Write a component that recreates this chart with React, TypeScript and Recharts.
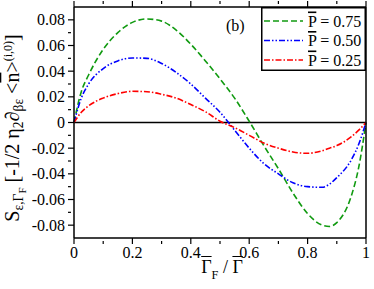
import { LineChart, Line, XAxis, YAxis, ReferenceLine } from "recharts";

// x = Gamma_F / Gamma
const xValues = [0, 0.025, 0.05, 0.1, 0.15, 0.2, 0.25, 0.3, 0.35, 0.4, 0.45, 0.5, 0.55, 0.6, 0.65, 0.7, 0.75, 0.8, 0.85, 0.875, 0.9, 0.95, 0.975, 1];
// P = 0.75
const p075 = [0, 0.024, 0.037, 0.057, 0.070, 0.078, 0.0807, 0.079, 0.072, 0.061, 0.048, 0.034, 0.019, 0.001, -0.018, -0.036, -0.055, -0.071, -0.080, -0.081, -0.078, -0.057, -0.035, 0];
// P = 0.50
const p050 = [0, 0.019, 0.030, 0.042, 0.048, 0.0503, 0.050, 0.046, 0.039, 0.030, 0.019, 0.008, -0.006, -0.020, -0.032, -0.040, -0.047, -0.050, -0.0505, -0.048, -0.043, -0.029, -0.017, 0];
// P = 0.25
const p025 = [0, 0.008, 0.013, 0.019, 0.0225, 0.0243, 0.024, 0.022, 0.019, 0.014, 0.0084, 0.001, -0.004, -0.010, -0.016, -0.020, -0.023, -0.024, -0.022, -0.020, -0.018, -0.011, -0.006, 0];

const xTicks = [0, 0.1, 0.2, 0.3, 0.4, 0.5, 0.6, 0.7, 0.8, 0.9, 1];
const yTicks = [-0.08, -0.07, -0.06, -0.05, -0.04, -0.03, -0.02, -0.01, 0, 0.01, 0.02, 0.03, 0.04, 0.05, 0.06, 0.07, 0.08];

const series = [
  { key: "p075", label: "0.75", color: "#109a10", dash: "6 3" },
  { key: "p050", label: "0.50", color: "#0000ff", dash: "6 2 1.5 2 1.5 2" },
  { key: "p025", label: "0.25", color: "#ff0000", dash: "6 2 1.5 2" },
];

const data = xValues.map((x, i) => ({ x, p075: p075[i], p050: p050[i], p025: p025[i] }));

const FONT = '"Liberation Serif", "Times New Roman", serif';
const MARGIN = 3;

const fmtX = (v: number) => (v === 0 ? "0" : v === 1 ? "1" : v.toFixed(1));
const fmtY = (v: number) => (Math.abs(v) < 1e-9 ? "0" : v.toFixed(2));

const BottomTick = ({ x, y, payload, index }: any) => {
  const major = index % 2 === 0;
  const ay = y - MARGIN;
  return (
    <g>
      <line x1={x} y1={ay} x2={x} y2={ay - (major ? 6 : 3)} stroke="#000" strokeWidth={1.2} />
      {major && (
        <text x={x} y={y} dy="0.71em" textAnchor="middle" fontSize={16} fontFamily={FONT} fill="#000">
          {fmtX(payload.value)}
        </text>
      )}
    </g>
  );
};

const TopTick = ({ x, y, index }: any) => {
  const major = index % 2 === 0;
  const ay = y + MARGIN;
  return <line x1={x} y1={ay} x2={x} y2={ay + (major ? 6 : 3)} stroke="#000" strokeWidth={1.2} />;
};

const LeftTick = ({ x, y, payload, index }: any) => {
  const major = index % 2 === 0;
  const ax = x + MARGIN;
  return (
    <g>
      <line x1={ax} y1={y} x2={ax + (major ? 6 : 3)} y2={y} stroke="#000" strokeWidth={1.2} />
      {major && (
        <text x={x} y={y} dy="0.35em" textAnchor="end" fontSize={16} fontFamily={FONT} fill="#000">
          {fmtY(payload.value)}
        </text>
      )}
    </g>
  );
};

const RightTick = ({ x, y, index }: any) => {
  const major = index % 2 === 0;
  const ax = x - MARGIN;
  return <line x1={ax} y1={y} x2={ax - (major ? 6 : 3)} y2={y} stroke="#000" strokeWidth={1.2} />;
};

const sub = { fontSize: "0.68em", verticalAlign: "-0.3em" } as const;
const sup = { fontSize: "0.6em", verticalAlign: "0.55em" } as const;
const over = { textDecoration: "overline" } as const;

export default function App() {
  return (
    <div style={{ position: "absolute", left: 0, top: 0, width: 374, height: 289, fontFamily: FONT, background: "#fff" }}>
      <LineChart width={374} height={289} data={data} margin={{ top: 0, right: 0, bottom: 0, left: 0 }}>
        <XAxis
          dataKey="x"
          type="number"
          domain={[0, 1]}
          ticks={xTicks}
          interval={0}
          height={51}
          tickLine={false}
          tickMargin={MARGIN}
          tick={<BottomTick />}
          axisLine={{ stroke: "#000", strokeWidth: 1.5 }}
        />
        <XAxis
          xAxisId="top"
          orientation="top"
          dataKey="x"
          type="number"
          domain={[0, 1]}
          ticks={xTicks}
          interval={0}
          height={7}
          tickLine={false}
          tickMargin={MARGIN}
          tick={<TopTick />}
          axisLine={{ stroke: "#000", strokeWidth: 1.5 }}
        />
        <YAxis
          type="number"
          domain={[-0.09, 0.09]}
          ticks={yTicks}
          interval={0}
          width={74}
          tickLine={false}
          tickMargin={MARGIN}
          tick={<LeftTick />}
          axisLine={{ stroke: "#000", strokeWidth: 1.5 }}
        />
        <YAxis
          yAxisId="right"
          orientation="right"
          type="number"
          domain={[-0.09, 0.09]}
          ticks={yTicks}
          interval={0}
          width={8}
          tickLine={false}
          tickMargin={MARGIN}
          tick={<RightTick />}
          axisLine={{ stroke: "#000", strokeWidth: 1.5 }}
        />
        <ReferenceLine y={0} stroke="#000" strokeWidth={1.5} />
        {series.map((s) => (
          <Line
            key={s.key}
            type="monotone"
            dataKey={s.key}
            stroke={s.color}
            strokeWidth={1.6}
            strokeDasharray={s.dash}
            dot={false}
            isAnimationActive={false}
          />
        ))}
      </LineChart>

      {/* legend */}
      <svg style={{ position: "absolute", left: 261, top: 7 }} width={105} height={64}>
        <rect x={0.75} y={0.75} width={103.5} height={62.5} fill="#fff" stroke="#000" strokeWidth={1.5} />
        {series.map((s, i) => (
          <g key={s.key}>
            <line x1={3} x2={42} y1={14 + i * 19.5} y2={14 + i * 19.5} stroke={s.color} strokeWidth={1.6} strokeDasharray={s.dash} />
            <text x={47} y={19.5 + i * 19.5} fontSize={16} fontFamily={FONT} fill="#000">
              <tspan style={over}>P</tspan> = {s.label}
            </text>
          </g>
        ))}
      </svg>

      <div style={{ position: "absolute", left: 226, top: 18, fontSize: 16, lineHeight: "16px" }}>(b)</div>

      {/* x title */}
      <div style={{ position: "absolute", left: 222, top: 257, transform: "translateX(-50%)", fontSize: 18, lineHeight: "20px", whiteSpace: "nowrap" }}>
        <span style={over}>Γ</span>
        <span style={{ fontSize: "0.68em", verticalAlign: "-0.45em" }}>F</span> / <span style={over}>Γ</span>
      </div>

      {/* y title */}
      <div
        style={{
          position: "absolute",
          left: 15,
          top: 128,
          transform: "translate(-50%, -50%) rotate(-90deg)",
          fontSize: 20,
          lineHeight: "22px",
          whiteSpace: "nowrap",
        }}
      >
        S<span style={sub}>ε,Γ<span style={{ fontSize: "0.8em", verticalAlign: "-0.25em" }}>F</span></span> [-1/2 η<span style={sub}>2</span>∂<span style={sub}>βε</span> &lt;<span style={over}>n</span>&gt;<span style={sup}>(i,0)</span>]
      </div>
    </div>
  );
}
